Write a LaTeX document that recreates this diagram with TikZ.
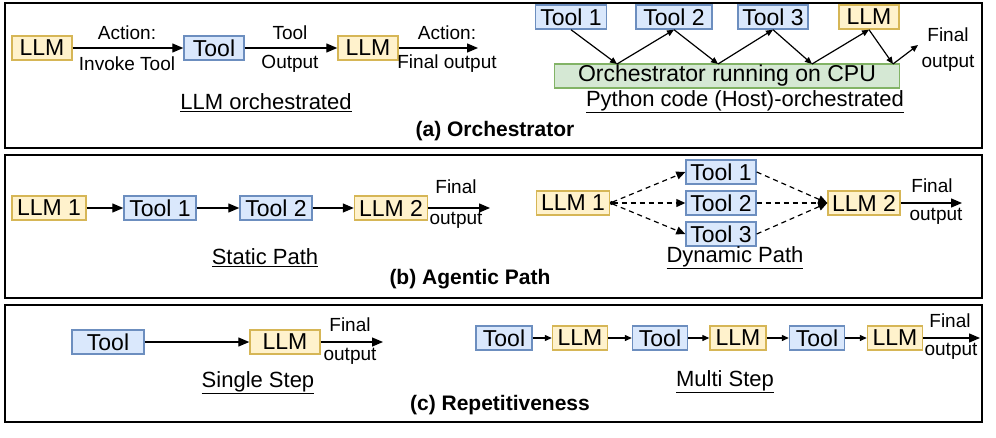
\documentclass[tikz,border=0pt]{standalone}
\usepackage{fontspec}
\setmainfont{Liberation Sans}
\usetikzlibrary{arrows.meta}
\definecolor{yf}{HTML}{FFF2CC}\definecolor{yd}{HTML}{D6B656}
\definecolor{bf}{HTML}{DAE8FC}\definecolor{bd}{HTML}{6C8EBF}
\definecolor{gf}{HTML}{D5E8D4}\definecolor{gd}{HTML}{82B366}
\tikzset{
 base/.style={draw,line width=1.4pt,minimum height=24pt,inner sep=1pt,font=\fontsize{23}{24}\selectfont},
 llm/.style={base,fill=yf,draw=yd},
 tool/.style={base,fill=bf,draw=bd},
 orch/.style={base,fill=gf,draw=gd},
 lbl/.style={font=\fontsize{19}{20}\selectfont,inner sep=0pt},
 ttl/.style={font=\fontsize{22}{23}\selectfont,inner sep=0pt},
 hd/.style={font=\bfseries\fontsize{21}{22}\selectfont,inner sep=0pt},
 arr/.style={-{Triangle[length=11pt,width=9pt]},line width=1.3pt},
 sarr/.style={-{Triangle[length=7pt,width=6pt]},line width=1.2pt},
 darr/.style={-{Triangle[length=9pt,width=8pt]},line width=1.2pt,dash pattern=on 5pt off 4pt},
 panel/.style={draw,line width=1.5pt}
}
\begin{document}
\begin{tikzpicture}[x=1pt,y=-1pt]
\useasboundingbox (0,0) rectangle (996,437);
\draw[panel] (5,3) rectangle (982,148);
\draw[panel] (5,155) rectangle (982,298);
\draw[panel] (5,305) rectangle (982,422);
% (a) left
\node[llm,minimum width=60pt] (a1) at (42,48) {LLM};
\node[tool,minimum width=60pt] (a2) at (214,48) {Tool};
\node[llm,minimum width=60pt] (a3) at (368,48) {LLM};
\coordinate (a4) at (478,48);
\draw[arr] (a1) -- (a2); \draw[arr] (a2) -- (a3); \draw[arr] (a3) -- (a4);
\node[lbl] (l1) at (127,33) {Action:};
\node[lbl] (l2) at (127,64) {Invoke Tool};
\node[lbl] (l3) at (290,33) {Tool};
\node[lbl] (l4) at (290,64) {Output};
\node[lbl] (l5) at (447,33) {Action:};
\node[lbl] (l6) at (447,64) {Final output};
\node[ttl] (t1) at (266,103) {\underline{LLM orchestrated}};
\node[hd] (h1) at (495,131) {(a) Orchestrator};
% (a) right
\node[tool,minimum width=71pt] (r1) at (571,17) {Tool 1};
\node[tool,minimum width=76pt] (r2) at (674,17) {Tool 2};
\node[tool,minimum width=70pt] (r3) at (773,17) {Tool 3};
\node[llm,minimum width=60pt] (r4) at (869,17) {LLM};
\node[orch,minimum width=345pt] (o) at (727,76) {Orchestrator running on CPU};
\coordinate (p1) at (617,64);\coordinate (p2) at (718,64);\coordinate (p3) at (812,64);\coordinate (p4) at (893,64);
\coordinate (fo) at (918,45);
\draw[sarr] (r1.south) -- (p1); \draw[sarr] (p1) -- (r2.south);
\draw[sarr] (r2.south) -- (p2); \draw[sarr] (p2) -- (r3.south);
\draw[sarr] (r3.south) -- (p3); \draw[sarr] (p3) -- (r4.south);
\draw[sarr] (r4.south) -- (p4); \draw[sarr] (p4) -- (fo);
\node[lbl] (f1) at (948,35) {Final};
\node[lbl] (f2) at (948,63) {output};
\node[ttl] (t2) at (745,102) {\underline{Python code (Host)-orchestrated}};
% (b) static
\node[llm,minimum width=74pt] (b1) at (49,208) {LLM 1};
\node[tool,minimum width=72pt] (b2) at (160,208) {Tool 1};
\node[tool,minimum width=72pt] (b3) at (276,208) {Tool 2};
\node[llm,minimum width=73pt] (b4) at (391,208) {LLM 2};
\coordinate (b5) at (490,208);
\draw[arr] (b1) -- (b2); \draw[arr] (b2) -- (b3); \draw[arr] (b3) -- (b4); \draw[arr] (b4) -- (b5);
\node[lbl] (bf1) at (456,187) {Final};
\node[lbl] (bf2) at (456,220) {output};
\node[ttl] (t3) at (265,258) {\underline{Static Path}};
% (b) dynamic
\node[llm,minimum width=73pt] (d1) at (573,203) {LLM 1};
\node[tool,minimum width=70pt] (d2) at (721,172) {Tool 1};
\node[tool,minimum width=70pt] (d3) at (721,203) {Tool 2};
\node[tool,minimum width=70pt] (d4) at (721,234) {Tool 3};
\node[llm,minimum width=72pt] (d5) at (864,203) {LLM 2};
\coordinate (d6) at (962,203);
\foreach \t in {d2,d3,d4}{\draw[darr,{Circle[length=3pt]}-{Triangle[length=9pt,width=8pt]}] (d1.east) -- (\t.west); \draw[darr] (\t.east) -- (d5.west);}
\draw[arr] (d5) -- (d6);
\node[lbl] (df1) at (932,186) {Final};
\node[lbl] (df2) at (936,216) {output};
\node[ttl] (t4) at (735,258) {\underline{Dynamic Path}};
\node[hd] (h2) at (470,279) {(b) Agentic Path};
% (c) single
\node[tool,minimum width=72pt] (c1) at (108,342) {Tool};
\node[llm,minimum width=70pt] (c2) at (285,342) {LLM};
\coordinate (c3) at (383,342);
\draw[arr] (c1) -- (c2); \draw[arr] (c2) -- (c3);
\node[lbl] (cf1) at (350,325) {Final};
\node[lbl] (cf2) at (350,356) {output};
\node[ttl] (t5) at (258,383) {\underline{Single Step}};
% (c) multi
\node[tool,minimum width=56pt] (m1) at (504,338) {Tool};
\node[llm,minimum width=55pt] (m2) at (580,338) {LLM};
\node[tool,minimum width=55pt] (m3) at (660,338) {Tool};
\node[llm,minimum width=56pt] (m4) at (738,338) {LLM};
\node[tool,minimum width=55pt] (m5) at (817,338) {Tool};
\node[llm,minimum width=55pt] (m6) at (895,338) {LLM};
\coordinate (m7) at (980,338);
\draw[sarr] (m1) -- (m2); \draw[sarr] (m2) -- (m3); \draw[sarr] (m3) -- (m4);
\draw[sarr] (m4) -- (m5); \draw[sarr] (m5) -- (m6); \draw[arr] (m6) -- (m7);
\node[lbl] (mf1) at (950,321) {Final};
\node[lbl] (mf2) at (951,351) {output};
\node[ttl] (t6) at (725,382) {\underline{Multi Step}};
\node[hd] (h3) at (500,405) {(c) Repetitiveness};
\end{tikzpicture}
\end{document}
